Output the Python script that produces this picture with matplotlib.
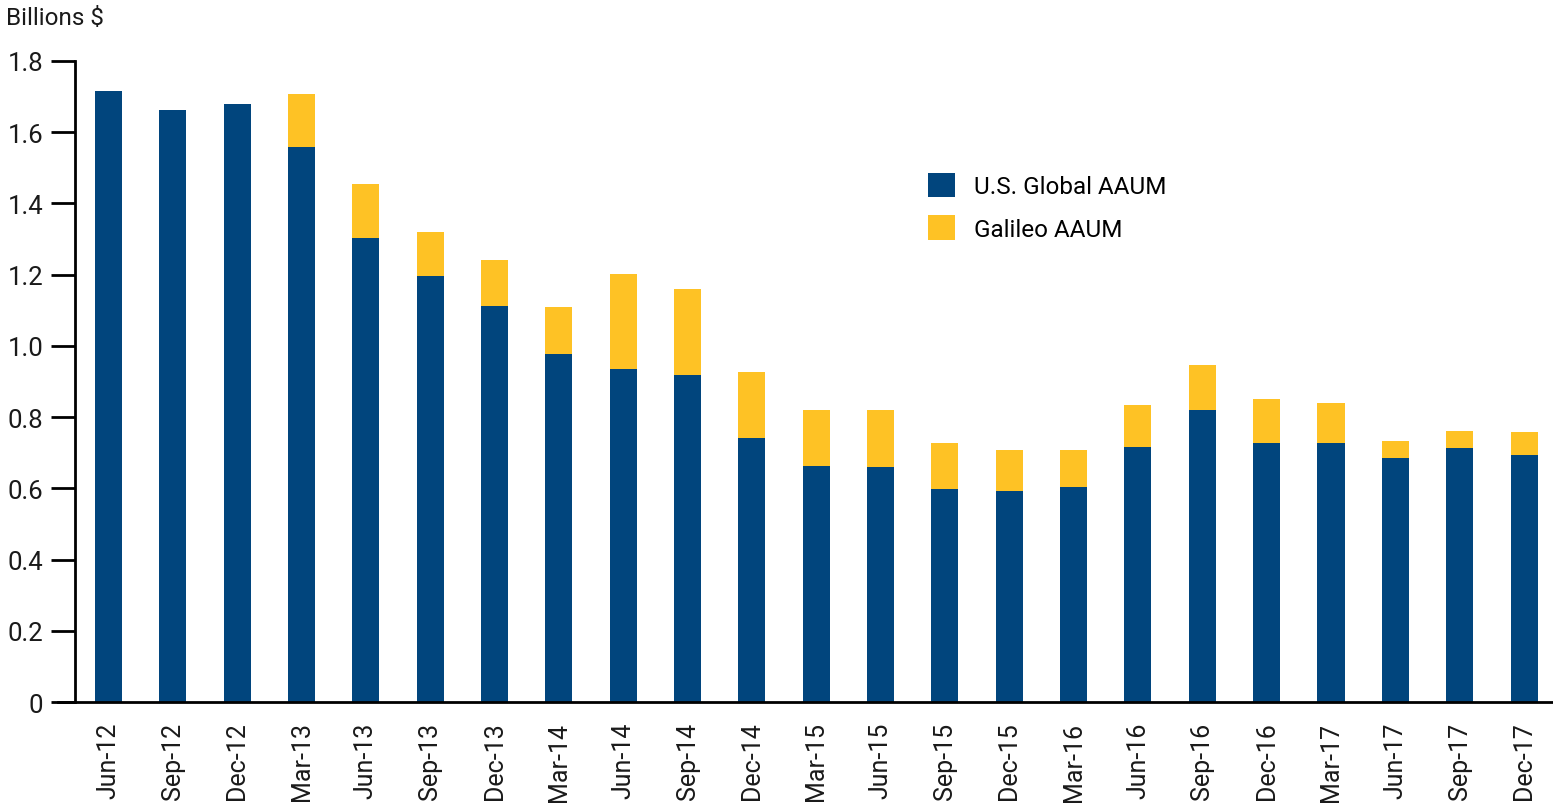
import matplotlib.pyplot as plt
import numpy as np

# ----------------------------------------------------------------------------------------------------------------------
# DATA
# ----------------------------------------------------------------------------------------------------------------------

quarters = ['Jun-12', 'Sep-12', 'Dec-12', 'Mar-13', 'Jun-13', 'Sep-13', 'Dec-13', 'Mar-14', 'Jun-14', 'Sep-14',
            'Dec-14', 'Mar-15', 'Jun-15', 'Sep-15', 'Dec-15', 'Mar-16', 'Jun-16', 'Sep-16', 'Dec-16', 'Mar-17',
            'Jun-17', 'Sep-17', 'Dec-17']
usglobal = [1.715, 1.662, 1.679, 1.558, 1.302, 1.195, 1.111, 0.977, 0.936, 0.917,
            0.740, 0.664, 0.661, 0.599, 0.593, 0.605, 0.717, 0.821, 0.728, 0.726,
            0.686, 0.714, 0.695]
total = [1.715, 1.662, 1.679, 1.707, 1.454, 1.319, 1.240, 1.108, 1.201, 1.161,
         0.928, 0.821, 0.821, 0.726, 0.709, 0.709, 0.835, 0.945, 0.852, 0.841,
         0.734, 0.762, 0.759]
galileo = [t - u for t, u in zip(total, usglobal)]
yticks = [0, 0.2, 0.4, 0.6, 0.8, 1.0, 1.2, 1.4, 1.6, 1.8]
ytick_labels = ['0', '0.2', '0.4', '0.6', '0.8', '1.0', '1.2', '1.4', '1.6', '1.8']

# ----------------------------------------------------------------------------------------------------------------------
# PLOT
# ----------------------------------------------------------------------------------------------------------------------

plt.rcParams['font.family'] = ['Roboto', 'DejaVu Sans']
blue = '#01457D'
gold = '#FEC225'

f = plt.figure(figsize=(15.53, 8.04), dpi=100)
ax = f.add_axes([0.0483, 0.1256, 0.9517, 0.7973])
x = np.arange(len(quarters))
ax.bar(x, usglobal, width=0.42, color=blue, label='U.S. Global AAUM', zorder=2)
ax.bar(x, galileo, bottom=usglobal, width=0.42, color=gold, label='Galileo AAUM', zorder=2)

ax.set_xlim(-0.52, 22.45)
ax.set_ylim(0, 1.8)
ax.set_xticks(x)
ax.set_xticklabels(quarters, rotation=90, fontsize=18, color='#1a1a1a')
ax.set_yticks(yticks)
ax.set_yticklabels(ytick_labels, fontsize=18.5, color='#1a1a1a')
ax.tick_params(axis='x', length=0, pad=14)
ax.tick_params(axis='y', length=17, width=2, pad=6)
for s in ['top', 'right']:
    ax.spines[s].set_visible(False)
ax.spines['left'].set_linewidth(2)
ax.spines['bottom'].set_linewidth(2)
ax.spines['bottom'].set_bounds(-0.52 - 17 / 64.4, 22.45)
ax.spines['bottom'].set_clip_on(False)

ax.legend(loc='upper left', bbox_to_anchor=(0.562, 0.86), frameon=False, fontsize=17.5,
          handlelength=1.15, handleheight=1.15, labelspacing=0.72, handletextpad=0.75)
f.text(0.004, 0.977, 'Billions $', fontsize=17.5, color='#1a1a1a', va='center', ha='left')

plt.savefig('out.png', dpi=100)
